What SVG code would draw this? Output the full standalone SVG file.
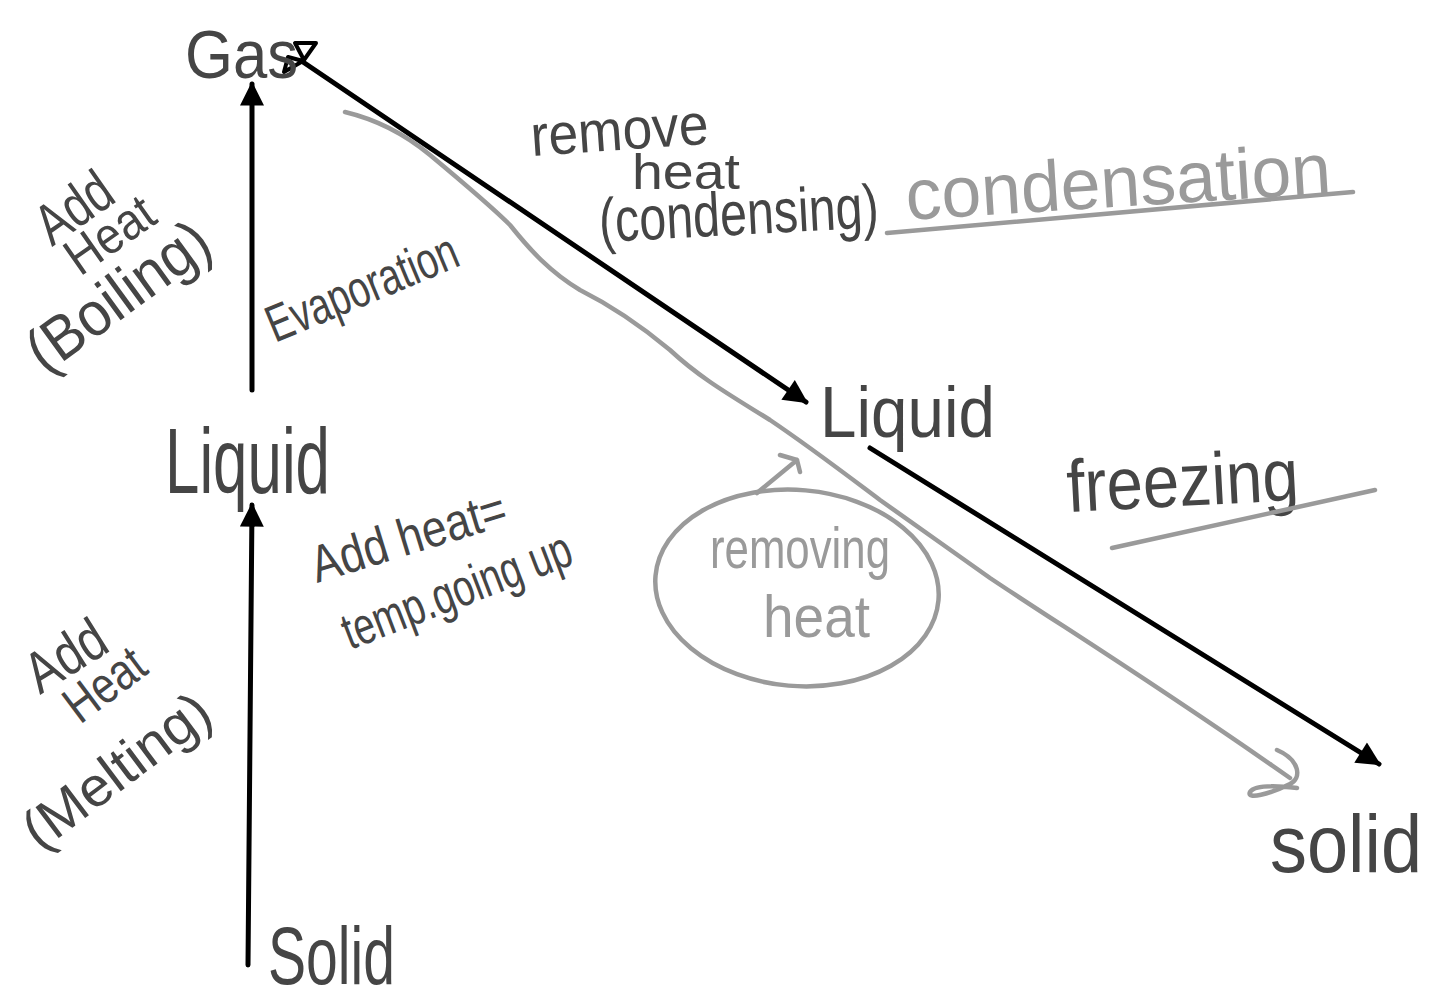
<svg xmlns="http://www.w3.org/2000/svg" width="1441" height="1004" viewBox="0 0 1441 1004">
<style>
.t{font-family:"Liberation Sans","Open Sans",sans-serif;fill:#454545}
.g{font-family:"Liberation Sans","Open Sans",sans-serif;fill:#9a9a9a}
.a{stroke:#000;stroke-width:5;fill:none;stroke-linecap:round}
.gl{stroke:#9a9a9a;stroke-width:4.5;fill:none;stroke-linecap:round;stroke-linejoin:round}
</style>
<defs>
<marker id="ah" viewBox="0 0 10 10" refX="9" refY="5" markerWidth="28" markerHeight="24" markerUnits="userSpaceOnUse" orient="auto">
<path d="M0,0 L10,5 L0,10 z" fill="#000"/>
</marker>
</defs>
<rect width="1441" height="1004" fill="#fff"/>

<g id="connectors">
<line class="a" x1="252" y1="390" x2="252" y2="84" marker-end="url(#ah)"/>
<line class="a" x1="248" y1="965" x2="252" y2="505" marker-end="url(#ah)"/>
<line class="a" x1="303" y1="62" x2="806" y2="402" marker-end="url(#ah)"/>
<path d="M284,72 L288,57 L303,61 Z M295,43 L316,43 L304,60 Z" fill="#fff" stroke="#000" stroke-width="4" stroke-linejoin="round"/>
<line class="a" x1="870" y1="448" x2="1379" y2="764" marker-end="url(#ah)"/>
<path class="gl" d="M345,112 C370,118 400,130 430,155 C460,180 490,205 510,225 C530,250 550,272 580,290 C610,305 640,325 670,350 C700,378 730,395 770,420 C810,447 840,470 880,500 C920,528 950,550 990,578 C1060,625 1150,680 1290,778"/>
<path class="gl" d="M1277,750 C1300,760 1302,778 1290,784 C1270,794 1246,800 1250,792 C1255,784 1280,786 1297,788"/>
<path class="gl" d="M757,493 L797,460 M780,455 L797,460 L800,472"/>
</g>

<g id="gas"><text class="t" x="185" y="78" font-size="68" textLength="113" lengthAdjust="spacingAndGlyphs">Gas</text></g>
<g id="liquid-left"><text class="t" x="165" y="493" font-size="92" textLength="165" lengthAdjust="spacingAndGlyphs">Liquid</text></g>
<g id="solid-left"><text class="t" x="268" y="984" font-size="82" textLength="127" lengthAdjust="spacingAndGlyphs">Solid</text></g>
<g id="liquid-right"><text class="t" x="820" y="437" font-size="72" textLength="175" lengthAdjust="spacingAndGlyphs">Liquid</text></g>
<g id="solid-right"><text class="t" x="1270" y="872" font-size="82" textLength="152" lengthAdjust="spacingAndGlyphs">solid</text></g>

<g id="label-boiling">
<text class="t" x="52" y="247" font-size="58" textLength="81" lengthAdjust="spacingAndGlyphs" transform="rotate(-35 52 247)">Add</text>
<text class="t" x="80" y="277" font-size="52" textLength="97" lengthAdjust="spacingAndGlyphs" transform="rotate(-35 80 277)">Heat</text>
<text class="t" x="45" y="375" font-size="62" textLength="211" lengthAdjust="spacingAndGlyphs" transform="rotate(-36 45 375)">(Boiling)</text>
</g>
<g id="label-melting">
<text class="t" x="40" y="695" font-size="58" textLength="85" lengthAdjust="spacingAndGlyphs" transform="rotate(-32 40 695)">Add</text>
<text class="t" x="80" y="725" font-size="52" textLength="88" lengthAdjust="spacingAndGlyphs" transform="rotate(-37 80 725)">Heat</text>
<text class="t" x="40" y="852" font-size="56" textLength="220" lengthAdjust="spacingAndGlyphs" transform="rotate(-37 40 852)">(Melting)</text>
</g>
<g id="label-evaporation">
<text class="t" x="275" y="343" font-size="52" textLength="203" lengthAdjust="spacingAndGlyphs" transform="rotate(-22.6 275 343)">Evaporation</text>
</g>
<g id="label-addheat">
<text class="t" x="317" y="583" font-size="52" textLength="202" lengthAdjust="spacingAndGlyphs" transform="rotate(-17 317 583)">Add heat=</text>
<text class="t" x="350" y="650" font-size="52" textLength="242" lengthAdjust="spacingAndGlyphs" transform="rotate(-21 350 650)">temp.going up</text>
</g>
<g id="label-remove-heat">
<text class="t" x="532" y="156" font-size="58" textLength="178" lengthAdjust="spacingAndGlyphs" transform="rotate(-4 532 156)">remove</text>
<text class="t" x="632" y="189" font-size="50" textLength="108" lengthAdjust="spacingAndGlyphs">heat</text>
<text class="t" x="600" y="242" font-size="62" textLength="280" lengthAdjust="spacingAndGlyphs" transform="rotate(-3 600 242)">(condensing)</text>
</g>
<g id="label-condensation">
<text class="g" x="907" y="220" font-size="72" textLength="426" lengthAdjust="spacingAndGlyphs" transform="rotate(-3.6 907 220)">condensation</text>
<line class="gl" x1="887" y1="233" x2="1353" y2="192"/>
</g>
<g id="label-freezing">
<text class="t" x="1068" y="512" font-size="74" textLength="232" lengthAdjust="spacingAndGlyphs" transform="rotate(-3 1068 512)">freezing</text>
<line class="gl" x1="1112" y1="548" x2="1375" y2="490"/>
</g>
<g id="removing-heat">
<ellipse class="gl" cx="797" cy="588" rx="142" ry="98" transform="rotate(5 797 588)"/>
<text class="g" x="710" y="568" font-size="58" textLength="180" lengthAdjust="spacingAndGlyphs">removing</text>
<text class="g" x="763" y="637" font-size="60" textLength="107" lengthAdjust="spacingAndGlyphs">heat</text>
</g>
</svg>
